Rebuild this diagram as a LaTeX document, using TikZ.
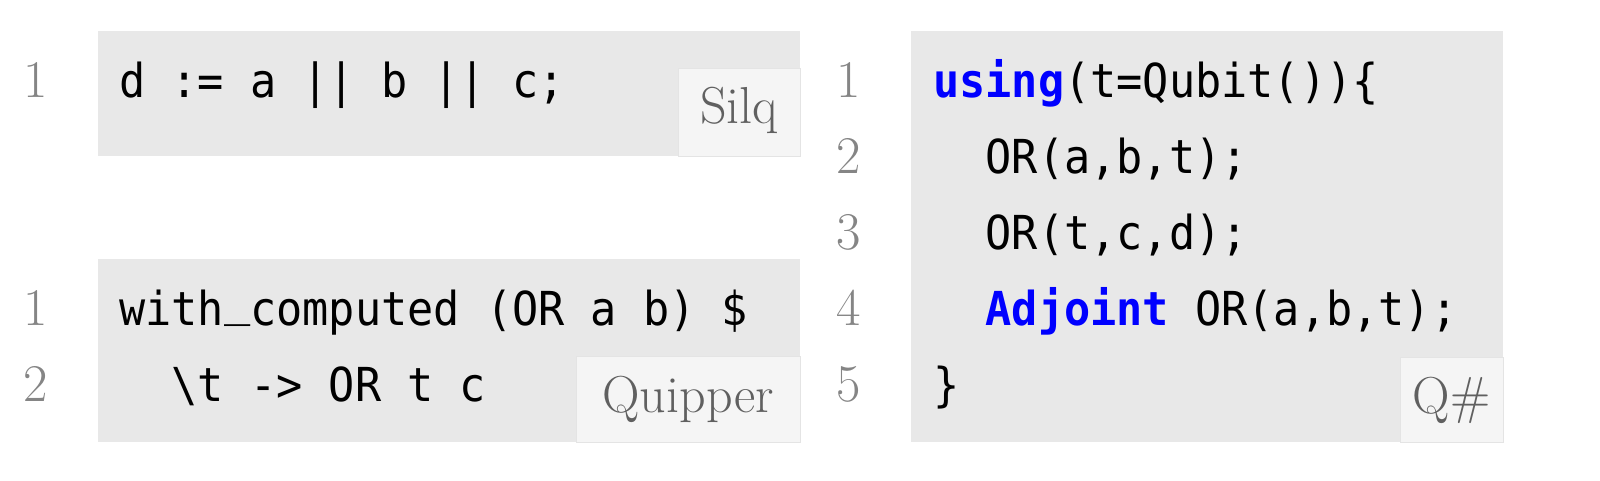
\documentclass[tikz,border=0pt]{standalone}
\usepackage{fontspec}
\setmonofont[FakeStretch=0.93]{DejaVu Sans Mono}
\definecolor{codebg}{HTML}{E8E8E8}
\definecolor{labbg}{HTML}{F5F5F5}
\definecolor{labline}{HTML}{E4E4E4}
\definecolor{labtext}{HTML}{606060}
\definecolor{numtext}{HTML}{858585}
\definecolor{kw}{HTML}{0000FF}
\newcommand\ind{\hphantom{xx}}
\newcommand\usc{\raisebox{0.2em}{\_}}
\tikzset{
  codebox/.style={fill=codebg, draw=none},
  labbox/.style={fill=labbg, draw=labline, line width=0.8pt},
  code/.style={anchor=base west, inner sep=0pt, font=\ttfamily\fontsize{46.8}{52}\selectfont, text=black},
  lnum/.style={anchor=base, inner sep=0pt, font=\fontsize{53}{58}\selectfont, text=numtext},
  labtxt/.style={anchor=base, inner sep=0pt, font=\fontsize{52}{58}\selectfont, text=labtext},
}
\begin{document}
\begin{tikzpicture}[x=1pt,y=-1pt]
\useasboundingbox (0,0) rectangle (1600,480);
% Silq
\fill[codebox] (98,31) rectangle (800,156);
\draw[labbox] (678,68) rectangle (800,156);
\node[lnum] (sn1) at (36,97) {1};
\node[code] (sc1) at (119,97) {d := a || b || c;};
\node[labtxt] (sl) at (739,123) {Silq};
% Quipper
\fill[codebox] (98,259) rectangle (800,442);
\draw[labbox] (576,356) rectangle (800,442);
\node[lnum] (qn1) at (36,325) {1};
\node[lnum] (qn2) at (36,401) {2};
\node[code] (qc1) at (119,325) {with\usc computed (OR a b) \$};
\node[code] (qc2) at (119,401) {\ind\textbackslash t -> OR t c};
\node[labtxt] (ql) at (688,412) {Quipper};
% Q#
\fill[codebox] (911,31) rectangle (1503,442);
\draw[labbox] (1400,357) rectangle (1503,442);
\node[lnum] (hn1) at (849,97) {1};
\node[lnum] (hn2) at (849,173) {2};
\node[lnum] (hn3) at (849,249) {3};
\node[lnum] (hn4) at (849,325) {4};
\node[lnum] (hn5) at (849,401) {5};
\node[code] (hc1) at (933,97) {\textcolor{kw}{\bfseries using}(t=Qubit())\{};
\node[code] (hc2) at (933,173) {\ind OR(a,b,t);};
\node[code] (hc3) at (933,249) {\ind OR(t,c,d);};
\node[code] (hc4) at (933,325) {\ind\textcolor{kw}{\bfseries Adjoint} OR(a,b,t);};
\node[code] (hc5) at (933,401) {\}};
\node[labtxt] (hl) at (1451.5,413) {Q\#};
\end{tikzpicture}
\end{document}
